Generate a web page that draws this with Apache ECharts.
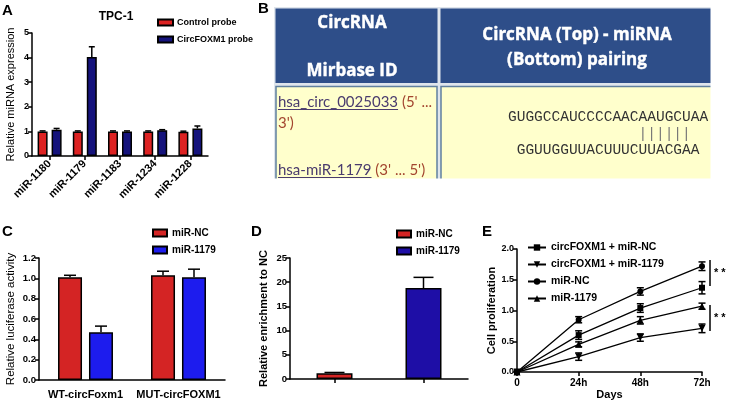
<!DOCTYPE html>
<html><head><meta charset="utf-8">
<script src="https://cdn.jsdelivr.net/npm/echarts@6/dist/echarts.min.js"></script>
<style>html,body{margin:0;padding:0;background:#fff}#c{width:730px;height:406px}</style>
</head><body><div id="c"></div>
<script>
// ---------- Panel A ----------
const catA = ['miR-1180','miR-1179','miR-1183','miR-1234','miR-1228'];
const controlProbe = [1.0, 1.0, 1.0, 1.0, 0.99];
const controlProbeErr = [0.02, 0.02, 0.02, 0.02, 0.02];
const foxm1Probe = [1.07, 4.02, 1.0, 1.05, 1.12];
const foxm1ProbeErr = [0.05, 0.42, 0.02, 0.02, 0.10];
const ticksA = [0, 5, 1];
// ---------- Panel B (table) ----------
const tableHead1 = ['CircRNA', 'Mirbase ID'];
const tableHead2 = ['CircRNA (Top) - miRNA', '(Bottom) pairing'];
const circId = 'hsa_circ_0025033', circDir1 = "(5' ...", circDir2 = "3')";
const mirId = 'hsa-miR-1179', mirDir = "(3' ... 5')";
const seqTop = 'GUGGCCAUCCCCAACAAUGCUAA';
const seqPairs = '               ||||||';
const seqBottom = ' GGUUGGUUACUUUCUUACGAA';
// ---------- Panel C ----------
const catC = ['WT-circFoxm1', 'MUT-circFOXM1'];
const ncC = [1.01, 1.03];
const ncCErr = [0.02, 0.04];
const m1179C = [0.47, 1.01];
const m1179CErr = [0.06, 0.08];
// ---------- Panel D ----------
const catD = ['', ''];
const ncD = [1.2, '-'];
const ncDErr = [0.15, 0];
const m1179D = ['-', 18.8];
const m1179DErr = [0, 2.2];
// ---------- Panel E ----------
const daysE = ['0', '24h', '48h', '72h'];
const eMiRNC = [0, 0.85, 1.31, 1.72];
const eMiRNCErr = [0, 0.05, 0.06, 0.07];
const eCircNC = [0, 0.60, 1.04, 1.37];
const eCircNCErr = [0, 0.07, 0.07, 0.10];
const eMiR1179 = [0, 0.45, 0.84, 1.07];
const eMiR1179Err = [0, 0.04, 0.06, 0.05];
const eCirc1179 = [0, 0.25, 0.56, 0.71];
const eCirc1179Err = [0, 0.06, 0.06, 0.07];

const FF = 'Liberation Sans';
const chart = echarts.init(document.getElementById('c'), null, {renderer: 'canvas'});

function errData(vals, errs) {
  const out = [];
  vals.forEach((v, i) => { if (v !== '-' && v !== null) out.push([i, v, errs[i]]); });
  return out;
}
function errRender(offset, capW, both) {
  return function (params, api) {
    const x = api.value(0), y = api.value(1), e = api.value(2);
    if (!e) return null;
    const p = api.coord([x, y]);
    const pt = api.coord([x, y + e]);
    const pb = api.coord([x, y - e]);
    const cx = p[0] + offset;
    const st = {stroke: '#000', lineWidth: 1.5};
    const ch = [
      {type: 'line', shape: {x1: cx, y1: both ? pb[1] : p[1], x2: cx, y2: pt[1]}, style: st},
      {type: 'line', shape: {x1: cx - capW / 2, y1: pt[1], x2: cx + capW / 2, y2: pt[1]}, style: st}
    ];
    if (both) ch.push({type: 'line', shape: {x1: cx - capW / 2, y1: pb[1], x2: cx + capW / 2, y2: pb[1]}, style: st});
    return {type: 'group', children: ch};
  };
}
function errSeries(name, xi, yi, data, offset, capW, both) {
  return {type: 'custom', name: name, xAxisIndex: xi, yAxisIndex: yi, data: data,
    encode: {x: 0, y: 1}, renderItem: errRender(offset, capW, both), z: 5, silent: true, clip: false};
}
const axLine = {show: true, lineStyle: {color: '#000', width: 1.5}};
const axTick = {show: true, inside: false, length: 4, lineStyle: {color: '#000', width: 1.5}};
function yAx(gi, min, max, interval, dec, name, gap, fs, bold, nfs) {
  return {type: 'value', gridIndex: gi, min: min, max: max, interval: interval,
    axisLine: axLine, axisTick: axTick, splitLine: {show: false},
    axisLabel: {color: '#000', fontFamily: FF, fontWeight: 'bold', fontSize: fs, margin: 3,
      formatter: v => dec ? v.toFixed(dec) : String(v)},
    name: name, nameLocation: 'middle', nameGap: gap,
    nameTextStyle: {color: '#000', fontFamily: FF, fontSize: nfs, fontWeight: bold ? 'bold' : 'normal'}};
}
const barStyle = c => ({color: c, borderColor: '#000', borderWidth: 1.5});

// canvas measure for underline
const mctx = document.createElement('canvas').getContext('2d');
function tw(txt, font) { mctx.font = font; return mctx.measureText(txt).width; }
const bodyFont = '15px Lato';
const wCirc = tw(circId, bodyFont), wMir = tw(mirId, bodyFont), wSp = tw(' ', bodyFont);
function headText(x, y, txt) {
  return {type: 'text', x: x, y: y, z: 4, style: {text: txt, fontFamily: 'Open Sans', fontWeight: 'bold', fontSize: 17,
    fill: '#fff', textAlign: 'center', textVerticalAlign: 'middle', stroke: '#fff', lineWidth: 0.4}};
}

const RED_A = '#dd2222', BLUE_A = '#15137c';
const RED_C = '#d42424', BLUE_C = '#1d1cee';
const BLUE_D = '#1e0ea6';

const option = {
  animation: false,
  backgroundColor: '#fff',
  grid: [
    {left: 32, top: 33, width: 176, height: 123},
    {left: 39, top: 258, width: 186, height: 122},
    {left: 290, top: 258, width: 178, height: 121},
    {left: 517, top: 249, width: 185, height: 123}
  ],
  xAxis: [
    {type: 'category', gridIndex: 0, data: catA, axisLine: axLine,
      axisTick: Object.assign({alignWithLabel: true}, axTick),
      axisLabel: {rotate: 45, color: '#000', fontFamily: FF, fontWeight: 'bold', fontSize: 11, margin: 6, interval: 0}},
    {type: 'category', gridIndex: 1, data: catC, axisLine: axLine, axisTick: {show: false},
      axisLabel: {color: '#000', fontFamily: FF, fontWeight: 'bold', fontSize: 11, margin: 9, interval: 0, hideOverlap: false}},
    {type: 'category', gridIndex: 2, data: catD, axisLine: axLine,
      axisTick: Object.assign({alignWithLabel: true}, axTick), axisLabel: {show: false}},
    {type: 'category', gridIndex: 3, data: daysE, boundaryGap: false, axisLine: axLine, axisTick: axTick,
      axisLabel: {color: '#000', fontFamily: FF, fontWeight: 'bold', fontSize: 10, margin: 6},
      name: 'Days', nameLocation: 'middle', nameGap: 17,
      nameTextStyle: {color: '#000', fontFamily: FF, fontWeight: 'bold', fontSize: 11}}
  ],
  yAxis: [
    yAx(0, ticksA[0], ticksA[1], ticksA[2], 0, 'Relative miRNA expression', 16, 9, false, 11),
    yAx(1, 0, 1.2, 0.2, 1, 'Relative luciferase activity', 22, 9.5, false, 11.5),
    yAx(2, 0, 25, 5, 0, 'Relative enrichment to NC', 21, 9.5, true, 11),
    yAx(3, 0, 2, 0.5, 1, 'Cell proliferation', 19, 9, true, 11)
  ],
  legend: [
    {left: 152, top: 13, orient: 'vertical', itemWidth: 15, itemHeight: 6, itemGap: 8, icon: 'rect',
      data: ['A:Control probe', 'A:CircFOXM1 probe'], formatter: n => n.split(':')[1],
      textStyle: {color: '#000', fontFamily: FF, fontWeight: 'bold', fontSize: 9, padding: [0, 0, 0, -1]}},
    {left: 147, top: 223, orient: 'vertical', itemWidth: 14, itemHeight: 7, itemGap: 7, icon: 'rect',
      data: ['C:miR-NC', 'C:miR-1179'], formatter: n => n.split(':')[1],
      textStyle: {color: '#000', fontFamily: FF, fontWeight: 'bold', fontSize: 10}},
    {left: 391, top: 224, orient: 'vertical', itemWidth: 14, itemHeight: 7, itemGap: 7, icon: 'rect',
      data: ['D:miR-NC', 'D:miR-1179'], formatter: n => n.split(':')[1],
      textStyle: {color: '#000', fontFamily: FF, fontWeight: 'bold', fontSize: 10}},
    {left: 522, top: 237, orient: 'vertical', itemWidth: 18, itemHeight: 8, itemGap: 6,
      data: ['E:circFOXM1 + miR-NC', 'E:circFOXM1 + miR-1179', 'E:miR-NC', 'E:miR-1179'],
      formatter: n => n.split(':')[1],
      textStyle: {color: '#000', fontFamily: FF, fontWeight: 'bold', fontSize: 10.5}}
  ],
  series: [
    // A
    {type: 'bar', name: 'A:Control probe', xAxisIndex: 0, yAxisIndex: 0, data: controlProbe,
      barWidth: 10, barGap: '40%', itemStyle: barStyle(RED_A)},
    {type: 'bar', name: 'A:CircFOXM1 probe', xAxisIndex: 0, yAxisIndex: 0, data: foxm1Probe,
      barWidth: 10, barGap: '40%', itemStyle: barStyle(BLUE_A)},
    errSeries('errA1', 0, 0, errData(controlProbe, controlProbeErr), -7, 6, false),
    errSeries('errA2', 0, 0, errData(foxm1Probe, foxm1ProbeErr), 7, 6, false),
    // C
    {type: 'bar', name: 'C:miR-NC', xAxisIndex: 1, yAxisIndex: 1, data: ncC,
      barWidth: 24, barGap: '29%', itemStyle: barStyle(RED_C)},
    {type: 'bar', name: 'C:miR-1179', xAxisIndex: 1, yAxisIndex: 1, data: m1179C,
      barWidth: 24, barGap: '29%', itemStyle: barStyle(BLUE_C)},
    errSeries('errC1', 1, 1, errData(ncC, ncCErr), -15.5, 12, false),
    errSeries('errC2', 1, 1, errData(m1179C, m1179CErr), 15.5, 12, false),
    // D
    {type: 'bar', name: 'D:miR-NC', xAxisIndex: 2, yAxisIndex: 2, data: ncD,
      barWidth: 36, barGap: '-100%', itemStyle: barStyle(RED_C)},
    {type: 'bar', name: 'D:miR-1179', xAxisIndex: 2, yAxisIndex: 2, data: m1179D,
      barWidth: 36, barGap: '-100%', itemStyle: barStyle(BLUE_D)},
    errSeries('errD1', 2, 2, errData(ncD, ncDErr), 0, 20, false),
    errSeries('errD2', 2, 2, errData(m1179D, m1179DErr), 0, 20, false),
    // E
    {type: 'line', name: 'E:circFOXM1 + miR-NC', xAxisIndex: 3, yAxisIndex: 3, data: eCircNC,
      symbol: 'rect', symbolSize: 6, itemStyle: {color: '#000'}, lineStyle: {color: '#000', width: 1.3}},
    {type: 'line', name: 'E:circFOXM1 + miR-1179', xAxisIndex: 3, yAxisIndex: 3, data: eCirc1179,
      symbol: 'triangle', symbolRotate: 180, symbolSize: 7, itemStyle: {color: '#000'}, lineStyle: {color: '#000', width: 1.3}},
    {type: 'line', name: 'E:miR-NC', xAxisIndex: 3, yAxisIndex: 3, data: eMiRNC,
      symbol: 'circle', symbolSize: 6, itemStyle: {color: '#000'}, lineStyle: {color: '#000', width: 1.3}},
    {type: 'line', name: 'E:miR-1179', xAxisIndex: 3, yAxisIndex: 3, data: eMiR1179,
      symbol: 'triangle', symbolSize: 7, itemStyle: {color: '#000'}, lineStyle: {color: '#000', width: 1.3}},
    errSeries('errE1', 3, 3, errData(eCircNC, eCircNCErr), 0, 7, true),
    errSeries('errE2', 3, 3, errData(eCirc1179, eCirc1179Err), 0, 7, true),
    errSeries('errE3', 3, 3, errData(eMiRNC, eMiRNCErr), 0, 7, true),
    errSeries('errE4', 3, 3, errData(eMiR1179, eMiR1179Err), 0, 7, true)
  ],
  graphic: [
    // panel letters
    {type: 'text', left: 2, top: 3, style: {text: 'A', font: 'bold 15px Liberation Sans', fill: '#000'}},
    {type: 'text', left: 258, top: 1, style: {text: 'B', font: 'bold 15px Liberation Sans', fill: '#000'}},
    {type: 'text', left: 2, top: 224, style: {text: 'C', font: 'bold 15px Liberation Sans', fill: '#000'}},
    {type: 'text', left: 251, top: 224, style: {text: 'D', font: 'bold 15px Liberation Sans', fill: '#000'}},
    {type: 'text', left: 482, top: 224, style: {text: 'E', font: 'bold 15px Liberation Sans', fill: '#000'}},
    // TPC-1 title
    {type: 'text', x: 116, y: 17, style: {text: 'TPC-1', font: 'bold 12px Liberation Sans', fill: '#000', textAlign: 'center', textVerticalAlign: 'middle'}},
    // table B
    {type: 'rect', shape: {x: 274, y: 7, width: 440, height: 175}, style: {fill: '#dfe5ec'}, z: 1},
    {type: 'rect', shape: {x: 275.5, y: 8.5, width: 162, height: 74.5}, style: {fill: '#2e4e89'}, z: 2},
    {type: 'rect', shape: {x: 440.5, y: 8.5, width: 275, height: 74.5}, style: {fill: '#2e4e89'}, z: 2},
    {type: 'rect', shape: {x: 276, y: 86.5, width: 161, height: 100}, style: {fill: '#ffffcc', stroke: '#60809f', lineWidth: 1.5}, z: 2},
    {type: 'rect', shape: {x: 441, y: 86.5, width: 275, height: 100}, style: {fill: '#ffffcc', stroke: '#60809f', lineWidth: 1.5}, z: 2},
    {type: 'rect', shape: {x: 268, y: 178.5, width: 460, height: 30}, style: {fill: '#fff'}, z: 3},
    {type: 'rect', shape: {x: 710.5, y: 0, width: 25, height: 182}, style: {fill: '#fff'}, z: 3},
    headText(352, 23, tableHead1[0]),
    headText(352, 71, tableHead1[1]),
    headText(577, 35, tableHead2[0]),
    headText(577, 60, tableHead2[1]),
    {type: 'text', x: 278, y: 102, z: 4, style: {text: circId, font: bodyFont, fill: '#4a3c6e', textVerticalAlign: 'middle'}},
    {type: 'line', z: 4, shape: {x1: 278, y1: 109.5, x2: 278 + wCirc, y2: 109.5}, style: {stroke: '#4a3c6e', lineWidth: 1}},
    {type: 'text', x: 278 + wCirc + wSp, y: 102, z: 4, style: {text: circDir1, font: bodyFont, fill: '#a3452f', textVerticalAlign: 'middle'}},
    {type: 'text', x: 278, y: 123, z: 4, style: {text: circDir2, font: bodyFont, fill: '#a3452f', textVerticalAlign: 'middle'}},
    {type: 'text', x: 278, y: 170, z: 4, style: {text: mirId, font: bodyFont, fill: '#4a3c6e', textVerticalAlign: 'middle'}},
    {type: 'line', z: 4, shape: {x1: 278, y1: 177.5, x2: 278 + wMir, y2: 177.5}, style: {stroke: '#4a3c6e', lineWidth: 1}},
    {type: 'text', x: 278 + wMir + wSp, y: 170, z: 4, style: {text: mirDir, font: bodyFont, fill: '#a3452f', textVerticalAlign: 'middle'}},
    {type: 'text', x: 508, y: 117, z: 4, style: {text: seqTop, font: '14.5px Liberation Mono', fill: '#333', textVerticalAlign: 'middle'}},
    {type: 'text', x: 508, y: 134, z: 4, style: {text: seqPairs, font: '14.5px Liberation Mono', fill: '#777', textVerticalAlign: 'middle'}},
    {type: 'text', x: 508, y: 150, z: 4, style: {text: seqBottom, font: '14.5px Liberation Mono', fill: '#333', textVerticalAlign: 'middle'}},
    // significance brackets E
    {type: 'line', shape: {x1: 710, y1: 260, x2: 710, y2: 286}, style: {stroke: '#000', lineWidth: 1.5}},
    {type: 'text', x: 714, y: 273, style: {text: '* *', font: 'bold 11px Liberation Sans', fill: '#000', textVerticalAlign: 'middle'}},
    {type: 'line', shape: {x1: 710, y1: 305, x2: 710, y2: 331}, style: {stroke: '#000', lineWidth: 1.5}},
    {type: 'text', x: 714, y: 318, style: {text: '* *', font: 'bold 11px Liberation Sans', fill: '#000', textVerticalAlign: 'middle'}}
  ]
};
chart.setOption(option);
</script>
</body></html>
